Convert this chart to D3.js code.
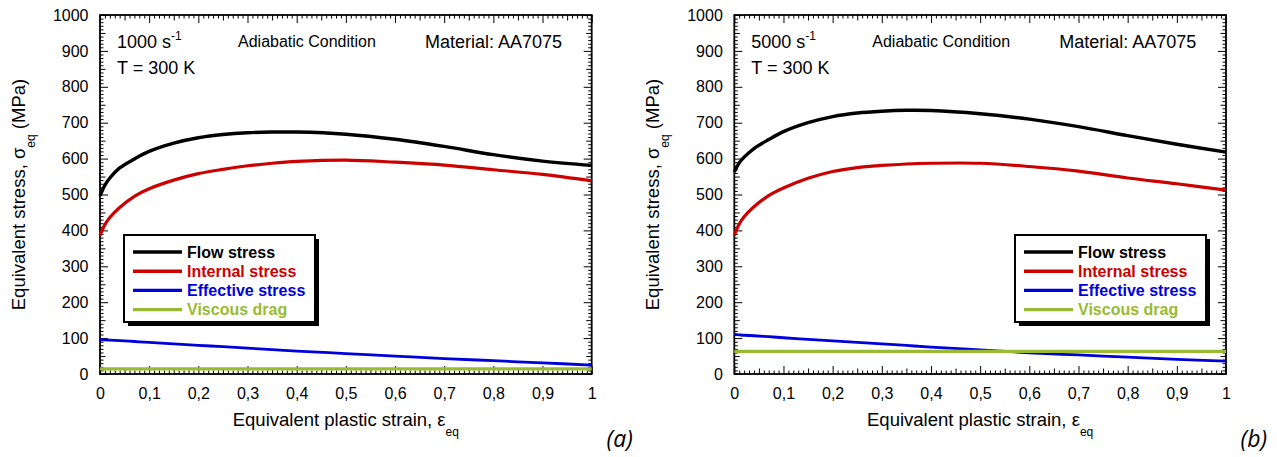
<!DOCTYPE html>
<html>
<head>
<meta charset="utf-8">
<script src="https://cdn.jsdelivr.net/npm/d3@7"></script>
<style>
  body { margin: 0; background: #fff; }
  svg { display: block; font-family: "Liberation Sans", Arial, sans-serif; }
</style>
</head>
<body>
<svg id="chart" width="1277" height="457"></svg>
<script>
// Equivalent plastic strain sample points
const strain = [0, 0.01, 0.02, 0.04, 0.07, 0.1, 0.15, 0.2, 0.25, 0.3, 0.35, 0.4, 0.5, 0.6, 0.7, 0.8, 0.9, 1.0];

// Panel (a): 1000 s^-1
const flowA      = [496, 526, 546, 574, 599, 620, 643, 658, 667, 672, 674, 674, 668, 654, 634, 611, 593, 581];
const internalA  = [386, 416, 436, 464, 495, 516, 540, 558, 570, 580, 587, 592, 596, 590, 582, 569, 556, 538];
const effectiveA = [96, 95, 94.5, 93, 90.5, 88, 84, 80, 76, 72, 68, 64, 57, 50, 43, 37, 31, 25];
const viscousA   = [14, 14, 14, 14, 14, 14, 14, 14, 14, 14, 14, 14, 14, 14, 14, 14, 14, 14];

// Panel (b): 5000 s^-1
const flowB      = [563, 588, 604, 628, 653, 675, 700, 717, 727, 732, 734.5, 734, 725, 710, 689, 664, 640, 618];
const internalB  = [386, 418, 438, 466, 497, 518, 545, 564, 575, 581, 585, 587, 587, 578, 565, 546, 530, 512];
const effectiveB = [110, 109, 108, 106.5, 104, 101, 96.5, 92, 88, 84, 79.5, 75, 67, 59, 53, 47, 41, 36];
const viscousB   = [63, 63, 63, 63, 63, 63, 63, 63, 63, 63, 63, 63, 63, 63, 63, 63, 63, 63];

const seriesNames  = ["Flow stress", "Internal stress", "Effective stress", "Viscous drag"];
const seriesColors = ["#000000", "#cc0000", "#0000dd", "#99bb33"];

const xTicks = [0, 0.1, 0.2, 0.3, 0.4, 0.5, 0.6, 0.7, 0.8, 0.9, 1];
const xTickLabels = ["0", "0,1", "0,2", "0,3", "0,4", "0,5", "0,6", "0,7", "0,8", "0,9", "1"];
const yTicks = [0, 100, 200, 300, 400, 500, 600, 700, 800, 900, 1000];
const yTickLabels = ["0", "100", "200", "300", "400", "500", "600", "700", "800", "900", "1000"];

const svg = d3.select("#chart");
svg.append("rect").attr("width", 1277).attr("height", 457).attr("fill", "#fff");

function drawPanel(opts) {
  const { left, right, top, bottom, series, rate, tag, legendLeft } = opts;
  const x = d3.scaleLinear().domain([0, 1]).range([left, right]);
  const y = d3.scaleLinear().domain([0, 1000]).range([bottom, top]);
  const g = svg.append("g");

  // tick sets: major, mid, minor
  const xMid = d3.range(0, 20).map(i => i / 20).filter((v, i) => i % 2 === 1);
  const xMinor = d3.range(0, 101).filter(i => i % 5 !== 0).map(i => i / 100);
  const yMid = d3.range(0, 10).map(i => i * 100 + 50);
  const yMinor = d3.range(0, 101).filter(i => i % 5 !== 0).map(i => i * 10);
  const sets = [
    { xv: xTicks, yv: yTicks, len: 8, labels: true },
    { xv: xMid, yv: yMid, len: 5.5, labels: false },
    { xv: xMinor, yv: yMinor, len: 3.5, labels: false }
  ];

  const styleAxis = sel => {
    sel.select(".domain").remove();
    sel.selectAll(".tick line").attr("stroke", "#000").attr("stroke-width", 1);
    sel.selectAll(".tick text").attr("fill", "#000").attr("font-size", 16)
       .attr("font-family", '"Liberation Sans", Arial, sans-serif');
  };

  sets.forEach(s => {
    g.append("g").attr("transform", `translate(0,${bottom})`)
      .call(d3.axisBottom(x).tickValues(s.xv).tickSize(-s.len).tickSizeOuter(0).tickPadding(14)
        .tickFormat(s.labels ? (d, i) => xTickLabels[i] : () => ""))
      .call(styleAxis);
    g.append("g").attr("transform", `translate(0,${top})`)
      .call(d3.axisTop(x).tickValues(s.xv).tickSize(-s.len).tickSizeOuter(0).tickFormat(() => ""))
      .call(styleAxis);
    g.append("g").attr("transform", `translate(${left},0)`)
      .call(d3.axisLeft(y).tickValues(s.yv).tickSize(-s.len).tickSizeOuter(0).tickPadding(11.5)
        .tickFormat(s.labels ? (d, i) => yTickLabels[i] : () => ""))
      .call(styleAxis);
    g.append("g").attr("transform", `translate(${right},0)`)
      .call(d3.axisRight(y).tickValues(s.yv).tickSize(-s.len).tickSizeOuter(0).tickFormat(() => ""))
      .call(styleAxis);
  });

  // frame
  g.append("rect").attr("x", left).attr("y", top)
    .attr("width", right - left).attr("height", bottom - top)
    .attr("fill", "none").attr("stroke", "#000").attr("stroke-width", 1.8);

  // curves
  const line = d3.line().x((d, i) => x(strain[i])).y(d => y(d)).curve(d3.curveCatmullRom.alpha(0.5));
  const widths = [3.4, 3.2, 2.8, 3.2];
  series.forEach((vals, k) => {
    g.append("path").datum(vals).attr("d", line)
      .attr("fill", "none").attr("stroke", seriesColors[k])
      .attr("stroke-width", widths[k]).attr("stroke-linejoin", "round");
  });

  // annotations
  const rateText = g.append("text").attr("x", left + 17).attr("y", 47.7).attr("font-size", 18).attr("fill", "#000");
  rateText.append("tspan").text(rate + " s");
  rateText.append("tspan").attr("font-size", 12).attr("dy", -8).text("-1");
  g.append("text").attr("x", left + 17).attr("y", 74).attr("font-size", 18).text("T = 300 K");
  g.append("text").attr("x", left + 138).attr("y", 47.3).attr("font-size", 16).text("Adiabatic Condition");
  g.append("text").attr("x", left + 325).attr("y", 47.7).attr("font-size", 18).text("Material: AA7075");

  // axis titles
  const cx = (left + right) / 2;
  const xt = g.append("text").attr("x", cx).attr("y", 426).attr("text-anchor", "middle").attr("font-size", 18.5);
  xt.append("tspan").text("Equivalent plastic strain, \u03b5");
  xt.append("tspan").attr("font-size", 12).attr("dy", 10).text("eq");

  const yt = g.append("text")
    .attr("transform", `translate(${left - 75},${(top + bottom) / 2}) rotate(-90)`)
    .attr("text-anchor", "middle").attr("font-size", 18.5);
  yt.append("tspan").text("Equivalent stress, \u03c3");
  yt.append("tspan").attr("font-size", 12).attr("dy", 10).text("eq");
  yt.append("tspan").attr("dy", -10).text(" (MPa)");

  // panel tag
  g.append("text").attr("x", right + 41).attr("y", 447).attr("text-anchor", "end")
    .attr("font-family", '"Open Sans", sans-serif').attr("font-style", "italic")
    .attr("font-size", 23).text(tag);

  // legend
  const lx = legendLeft, ly = 235, lw = 191, lh = 87;
  const lg = g.append("g");
  lg.append("rect").attr("x", lx + 4).attr("y", ly + 4).attr("width", lw).attr("height", lh).attr("fill", "#000");
  lg.append("rect").attr("x", lx).attr("y", ly).attr("width", lw).attr("height", lh)
    .attr("fill", "#fff").attr("stroke", "#000").attr("stroke-width", 2);
  seriesNames.forEach((name, k) => {
    const ry = ly + 17 + k * 19.2;
    lg.append("line").attr("x1", lx + 9).attr("x2", lx + 58).attr("y1", ry).attr("y2", ry)
      .attr("stroke", seriesColors[k]).attr("stroke-width", 3.4);
    lg.append("text").attr("x", lx + 63).attr("y", ry + 5.8).attr("font-size", 16)
      .attr("font-weight", "bold").attr("fill", seriesColors[k]).text(name);
  });
}

drawPanel({
  left: 100, right: 591.7, top: 15, bottom: 374,
  series: [flowA, internalA, effectiveA, viscousA],
  rate: "1000", tag: "(a)", legendLeft: 124
});
drawPanel({
  left: 734.3, right: 1226, top: 15, bottom: 374,
  series: [flowB, internalB, effectiveB, viscousB],
  rate: "5000", tag: "(b)", legendLeft: 1015
});
</script>
</body>
</html>
